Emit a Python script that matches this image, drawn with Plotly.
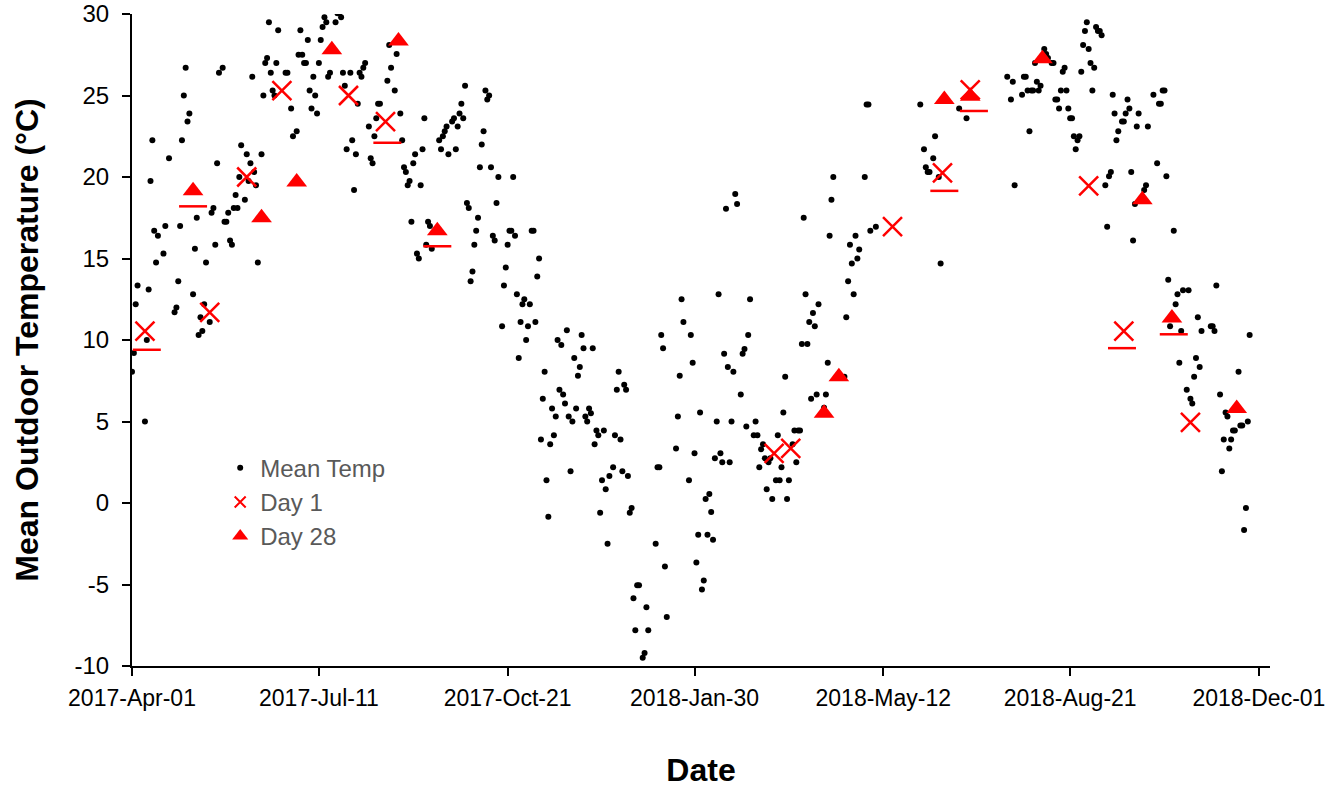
import datetime as dt
import plotly.graph_objects as go

BASE = dt.date(2017, 4, 1)

# Daily mean temperature: day offset from 2017-04-01 and value (°C)
temp_days = [0,1,2,3,7,8,9,10,11,12,13,14,17,18,20,23,24,25,26,27,28,29,30,31,33,34,35,36,37,38,39,40,42,43,44,45,46,47,49,
             50,51,52,53,54,55,56,57,58,59,61,62,63,64,65,66,67,68,70,71,72,73,74,75,76,77,78,79,83,84,86,87,89,
             90,91,92,93,94,95,96,97,98,99,100,101,102,103,104,105,106,107,110,111,112,113,114,115,116,118,119,
             120,121,122,123,124,125,126,128,129,130,131,132,133,134,138,139,140,142,143,145,146,147,148,149,
             150,151,152,153,154,155,156,157,158,159,160,161,162,166,167,168,169,170,171,173,174,175,176,177,178,179,
             180,181,182,183,184,185,186,187,188,189,190,191,192,193,194,195,196,197,198,200,201,202,203,204,205,206,207,208,209,
             210,211,212,213,214,215,216,217,218,219,220,221,222,223,224,225,226,227,228,229,230,231,232,233,234,235,236,237,238,239,
             240,241,242,243,244,245,246,247,248,249,250,251,252,253,254,255,256,257,258,260,261,262,263,264,265,266,267,268,269,
             270,271,272,273,274,276,277,278,279,283,284,285,286,287,288,289,294,295,296,297,298,301,302,303,304,305,306,307,308,309,
             310,311,312,313,314,315,316,317,318,319,320,321,322,323,324,325,326,327,329,330,331,332,333,334,336,337,338,339,
             340,341,342,343,344,345,346,348,349,350,351,352,353,354,355,357,358,359,360,361,362,363,364,365,366,367,368,369,
             370,371,374,375,376,377,378,379,385,386,387,388,389,390,391,392,393,396,397,398,399,402,
             426,428,429,430,431,433,434,436,437,447,451,473,475,476,477,481,482,483,484,485,486,487,488,489,
             490,491,493,494,495,497,498,499,500,501,502,503,504,505,506,507,508,509,510,511,512,513,514,515,516,517,518,519,
             520,521,522,523,524,526,527,528,529,530,531,532,533,535,536,537,538,539,540,541,542,543,544,547,548,549,
             552,554,555,556,557,558,559,560,561,563,564,565,566,567,568,570,571,572,573,574,575,576,577,578,
             583,584,585,586,588,589,590,591,592,593,594,595,596,598,599,600,601,602,603,604]
temp_vals = [8.05,9.2,12.2,13.35,5.0,10.0,13.1,19.75,22.25,16.7,14.75,16.4,15.3,17.0,21.15,11.7,12.0,13.6,17.0,22.25,25.0,26.7,23.4,23.9,12.8,15.6,17.5,10.3,11.4,10.55,12.2,14.75,11.1,17.8,18.1,15.85,20.85,26.4,26.7,
             17.25,17.25,17.8,16.1,15.85,18.1,18.9,18.1,20.0,21.95,18.6,21.4,19.75,20.85,26.15,20.3,19.5,14.75,21.4,25.0,27.0,27.3,29.5,26.4,25.3,25.0,27.0,29.0,26.4,26.4,24.2,22.5,22.8,
             27.5,29.0,27.5,27.0,27.0,28.4,25.3,24.2,26.15,25.0,23.9,27.0,28.4,29.2,29.8,29.5,26.15,26.4,29.5,30.05,30.05,29.8,26.4,25.6,21.7,26.4,22.25,
             19.2,21.4,24.5,26.4,26.15,26.7,27.0,23.1,21.15,20.85,22.5,23.6,24.5,24.5,25.9,28.1,26.7,25.3,27.55,23.9,22.25,20.6,20.3,19.5,
             19.75,17.25,20.85,21.4,15.3,15.0,19.5,21.7,23.6,15.85,17.25,17.0,15.6,22.25,21.7,22.5,22.8,23.1,21.4,23.4,23.6,21.7,23.1,23.9,24.5,23.6,
             25.6,18.4,18.1,13.6,14.2,15.85,16.7,17.5,20.6,22.0,22.8,25.3,24.75,25.0,20.6,16.4,16.1,18.4,20.0,10.85,13.35,14.45,15.85,16.7,16.7,20.0,16.4,12.8,8.9,
             11.1,12.2,12.5,10.0,10.85,12.2,16.7,16.7,11.1,13.9,15.0,3.9,6.4,8.05,1.4,-0.85,3.6,5.8,4.15,5.3,10.0,6.95,9.7,6.65,6.1,10.6,5.3,1.95,5.0,8.9,
             5.8,7.8,8.35,10.3,9.5,5.3,5.0,5.8,5.5,9.5,3.6,4.45,4.15,-0.6,1.4,4.45,0.85,-2.5,1.65,2.2,4.15,6.95,8.05,3.9,1.95,7.25,6.95,1.65,-0.6,
             -0.3,-5.85,-7.8,-5.05,-5.05,-9.5,-9.2,-6.4,-7.8,-2.5,2.2,2.2,10.3,9.5,-3.9,-7.0,3.35,5.3,7.8,12.5,11.1,1.4,10.3,8.6,3.05,-3.65,-1.95,5.55,-5.3,-4.75,
             0.25,-1.95,0.55,-0.55,-2.25,2.75,5.0,12.8,3.05,2.5,9.15,18.05,8.35,2.5,5.0,8.05,18.95,18.35,6.65,9.15,9.45,4.7,10.3,12.5,4.15,5.0,4.15,2.2,
             3.3,3.6,2.75,0.85,2.5,2.75,0.25,1.4,4.15,1.4,2.2,5.55,7.75,0.25,1.4,3.6,4.45,2.5,4.45,4.45,9.75,17.5,12.8,9.75,11.1,6.4,11.65,10.85,
             6.65,12.2,5.85,6.65,8.6,16.4,18.6,20.0,7.75,11.4,13.6,15.85,14.7,12.8,16.4,15.0,15.55,20.0,24.45,24.45,16.7,16.95,
             24.45,21.7,20.6,20.3,20.3,21.15,22.5,20.0,14.7,24.2,23.6,26.15,24.75,25.85,19.5,25.05,26.15,26.15,25.3,22.8,25.3,25.3,27.0,25.85,
             25.3,25.6,27.85,27.55,27.3,27.0,27.0,24.75,24.75,24.2,25.3,26.45,26.7,25.3,24.2,23.6,23.6,22.5,21.7,22.25,22.5,26.45,28.1,28.95,29.5,27.85,27.0,25.3,
             26.7,29.2,28.95,28.95,28.7,19.5,16.95,20.05,20.3,25.05,23.9,22.25,22.8,23.4,23.4,23.9,24.75,24.2,20.3,16.1,18.35,23.1,23.9,19.2,19.5,23.1,
             25.05,20.85,24.5,24.5,25.3,25.3,20.05,13.7,10.85,16.7,12.2,12.8,8.6,10.55,13.05,6.95,13.05,6.4,6.1,7.75,8.9,11.4,8.35,10.55,
             10.85,10.85,10.55,13.35,6.65,1.95,3.9,5.55,5.3,3.35,3.9,4.45,4.45,8.05,4.75,4.75,-1.65,-0.3,5.0,10.3]

# Day 1 samples
day1_days = [7, 42, 62, 81, 117, 137, 347, 356, 411, 438, 453, 517, 536, 572]
day1_vals = [10.55, 11.7, 20.0, 25.3, 25.0, 23.4, 3.05, 3.35, 16.95, 20.25, 25.35, 19.45, 10.55, 4.95]

# Day 28 samples
day28_days = [33, 70, 89, 108, 144, 165, 374, 382, 439, 453, 492, 546, 562, 597]
day28_vals = [19.15, 17.5, 19.7, 27.8, 28.35, 16.7, 5.5, 7.75, 24.75, 24.95, 27.25, 18.6, 11.35, 5.8]

# Unlabelled dash series
dash_days = [8, 33, 138, 165, 439, 455, 535, 563]
dash_vals = [9.4, 18.2, 22.1, 15.75, 19.15, 24.05, 9.5, 10.35]

x_tick_dates = ["2017-04-01", "2017-07-11", "2017-10-21", "2018-01-30", "2018-05-12", "2018-08-21", "2018-12-01"]
y_ticks = [-10, -5, 0, 5, 10, 15, 20, 25, 30]
y_tick_text = ["-10", "-5", "0", "5", "10", "15", "20", "25", "30"]


def to_dates(days):
    return [BASE + dt.timedelta(days=int(d)) for d in days]


FONT = "Liberation Sans, Arial, sans-serif"
RED = "#FF0000"

fig = go.Figure()
fig.add_trace(go.Scatter(x=to_dates(temp_days), y=temp_vals, mode="markers", name="Mean Temp",
                         marker=dict(symbol="circle", size=6, color="black"), showlegend=False))
fig.add_trace(go.Scatter(x=to_dates(dash_days), y=dash_vals, mode="markers", name="",
                         marker=dict(symbol="line-ew", size=20, line=dict(color=RED, width=2.5)),
                         showlegend=False))
fig.add_trace(go.Scatter(x=to_dates(day1_days), y=day1_vals, mode="markers", name="Day 1",
                         marker=dict(symbol="x-thin", size=19, line=dict(color=RED, width=2.5)),
                         showlegend=False))
fig.add_trace(go.Scatter(x=to_dates(day28_days), y=day28_vals, mode="markers", name="Day 28",
                         marker=dict(symbol="triangle-up", size=18, color=RED), showlegend=False))

# legend entries (smaller symbols, as in the reference legend)
fig.add_trace(go.Scatter(x=[None], y=[None], mode="markers", name="Mean Temp",
                         marker=dict(symbol="circle", size=6, color="black")))
fig.add_trace(go.Scatter(x=[None], y=[None], mode="markers", name="Day 1",
                         marker=dict(symbol="x-thin", size=11, line=dict(color=RED, width=2))))
fig.add_trace(go.Scatter(x=[None], y=[None], mode="markers", name="Day 28",
                         marker=dict(symbol="triangle-up", size=14, color=RED)))

fig.update_layout(
    width=1326, height=788,
    margin=dict(l=132, r=56, t=14, b=122),
    paper_bgcolor="white", plot_bgcolor="white",
    font=dict(family=FONT, size=24, color="black"),
    showlegend=True,
    legend=dict(x=0.0775, y=0.338, xanchor="left", yanchor="top",
                font=dict(family=FONT, size=24, color="#595959"),
                bgcolor="rgba(0,0,0,0)", itemwidth=30, tracegroupgap=0),
    xaxis=dict(
        range=["2017-04-01", "2018-12-07"],
        tickvals=x_tick_dates, tickformat="%Y-%b-%d",
        showline=True, linecolor="black", linewidth=2,
        ticks="outside", ticklen=8, tickwidth=2, tickcolor="black",
        showgrid=False, zeroline=False, automargin=False,
        ticklabeloverflow="allow", ticklabelstandoff=2,
        tickfont=dict(family=FONT, size=23, color="black"),
        title=dict(text="Date", font=dict(family=FONT, size=32, color="black", weight="bold"), standoff=68),
    ),
    yaxis=dict(
        range=[-10, 30], tickvals=y_ticks, ticktext=y_tick_text,
        showline=True, linecolor="black", linewidth=2,
        ticks="outside", ticklen=8, tickwidth=2, tickcolor="black",
        showgrid=False, zeroline=False, automargin=False,
        ticklabeloverflow="allow", ticklabelstandoff=8,
        tickfont=dict(family=FONT, size=24, color="black"),
        title=dict(text="Mean Outdoor Temperature (°C)",
                   font=dict(family=FONT, size=32, color="black", weight="bold"), standoff=26),
    ),
)

fig.write_html("out.html")
